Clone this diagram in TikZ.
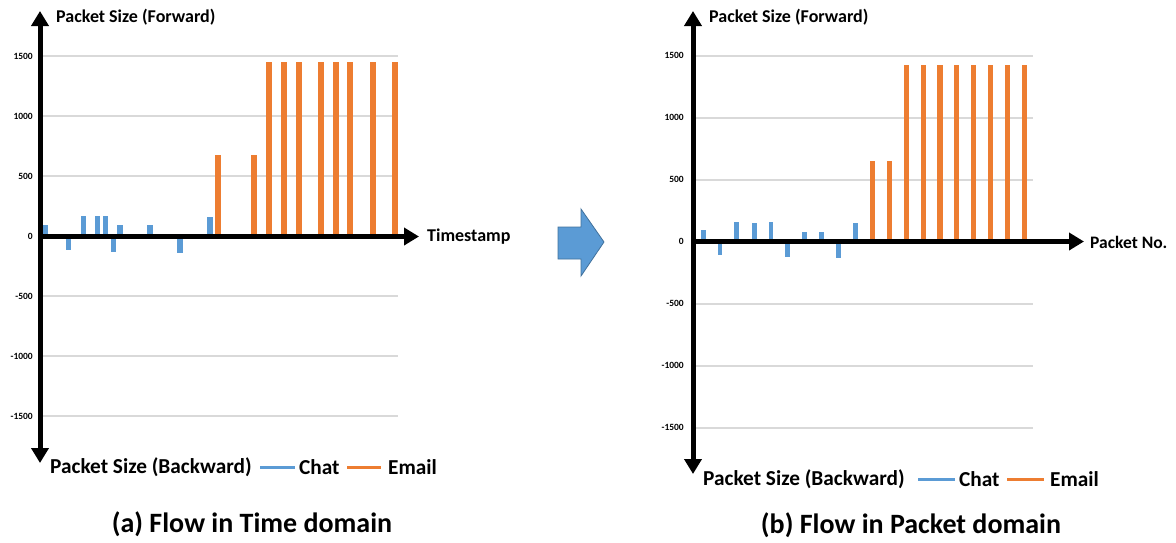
\documentclass[tikz,border=0pt]{standalone}
\usepackage{fontspec}
\setmainfont{Carlito}
\usetikzlibrary{arrows.meta}
\definecolor{chatblue}{HTML}{5B9BD5}
\definecolor{mailorange}{HTML}{ED7D31}
\definecolor{gridgray}{HTML}{D9D9D9}
\definecolor{arrowedge}{HTML}{41719C}
\tikzset{
  axisline/.style={line width=5pt, -{Triangle[length=15pt,width=17pt]}},
  gridline/.style={gridgray, line width=2pt},
  ticklbl/.style={anchor=east, inner sep=0pt, font=\fontsize{9.5}{10}\selectfont\bfseries},
  biglbl/.style={anchor=west, inner sep=0pt, font=\fontsize{18}{20}\selectfont\bfseries},
  leglbl/.style={anchor=west, inner sep=0pt, font=\fontsize{21.3}{23}\selectfont\bfseries},
  titlelbl/.style={inner sep=0pt, font=\fontsize{28}{30}\selectfont\bfseries},
  chatbar/.style={fill=chatblue, draw=none},
  mailbar/.style={fill=mailorange, draw=none},
  legline/.style={line width=3pt},
}
\begin{document}
\begin{tikzpicture}[x=1pt,y=-1pt]
\path[use as bounding box] (0,0) rectangle (1176,542);

% ================= LEFT CHART =================
\foreach \yy/\lab in {56/1500,116/1000,176/500,296/-500,356/-1000,416/-1500}{
  \draw[gridline] (42,\yy) -- (398,\yy);
  \node[ticklbl] at (33,\yy) {\lab};
}
\node[ticklbl] (lzero) at (33,236.5) {0};
\foreach \xx/\tp in {45.7/225,83.3/216,97.7/216,105.3/216,120/225,150/225,210/217}{
  \fill[chatbar] (\xx-2.6,\tp) rectangle (\xx+2.6,236.5);
}
\foreach \xx/\bt in {68.3/250,113.3/252,180/253}{
  \fill[chatbar] (\xx-2.6,236.5) rectangle (\xx+2.6,\bt);
}
\foreach \xx/\tp in {217.7/155,254.3/155,269.3/62,284/62,298.7/62,321/62,335.7/62,350.3/62,372.7/62,395/62}{
  \fill[mailbar] (\xx-3,\tp) rectangle (\xx+3,236.5);
}
\coordinate (ltop) at (40,11);
\coordinate (lbot) at (40,463);
\coordinate (lright) at (419,236.5);
\draw[axisline] (40,238) -- (ltop);
\draw[axisline] (40,235) -- (lbot);
\draw[axisline] (38,236.5) -- (lright);
\node[biglbl] (lfwd) at (56,17) {Packet Size (Forward)};
\node[biglbl] (lts) at (427,237) {Timestamp};
\node[leglbl] (lbwd) at (50,467) {Packet Size (Backward)};
\draw[legline, chatblue] (260,467) -- (295,467);
\node[leglbl] (lchat) at (299,467) {Chat};
\draw[legline, mailorange] (347,467) -- (381,467);
\node[leglbl] (lmail) at (388,467) {Email};
\node[titlelbl] (ltitle) at (252,524) {(a) Flow in Time domain};

% ================= MIDDLE ARROW =================
\filldraw[fill=chatblue, draw=arrowedge, line width=0.8pt]
  (558,227) -- (581,227) -- (581,209) -- (604,242) -- (581,276) -- (581,259) -- (558,259) -- cycle;

% ================= RIGHT CHART =================
\foreach \yy/\lab in {55.5/1500,117.5/1000,179.5/500,303.5/-500,365.5/-1000,427.5/-1500}{
  \draw[gridline] (695,\yy) -- (1033,\yy);
  \node[ticklbl] at (684,\yy) {\lab};
}
\node[ticklbl] (rzero) at (684,241.5) {0};
\foreach \xx/\tp in {703.3/230,736.7/222,754.3/222.7,771/222,804.3/231.7,821.7/231.7,855.7/222.7}{
  \fill[chatbar] (\xx-2.3,\tp) rectangle (\xx+2.3,241.5);
}
\foreach \xx/\bt in {720/255,787.7/256.7,838.7/257.7}{
  \fill[chatbar] (\xx-2.3,241.5) rectangle (\xx+2.3,\bt);
}
\foreach \xx/\tp in {872.3/160.7,889.3/160.7,906.7/65,923.3/65,940/65,956.7/65,973.3/65,990.7/65,1007.7/65,1024.3/65}{
  \fill[mailbar] (\xx-2.7,\tp) rectangle (\xx+2.7,241.5);
}
\coordinate (rtop) at (693,11);
\coordinate (rbot) at (693,474);
\coordinate (rright) at (1084,241.5);
\draw[axisline] (693,243) -- (rtop);
\draw[axisline] (693,240) -- (rbot);
\draw[axisline] (691,241.5) -- (rright);
\node[biglbl] (rfwd) at (709,17) {Packet Size (Forward)};
\node[biglbl, font=\fontsize{17.5}{19}\selectfont\bfseries] (rpn) at (1090,242) {Packet No.};
\node[leglbl] (rbwd) at (703,479) {Packet Size (Backward)};
\draw[legline, chatblue] (918,479) -- (955,479);
\node[leglbl] (rchat) at (959,479) {Chat};
\draw[legline, mailorange] (1007,479) -- (1044,479);
\node[leglbl] (rmail) at (1050,479) {Email};
\node[titlelbl] (rtitle) at (911,525) {(b) Flow in Packet domain};
\end{tikzpicture}
\end{document}
